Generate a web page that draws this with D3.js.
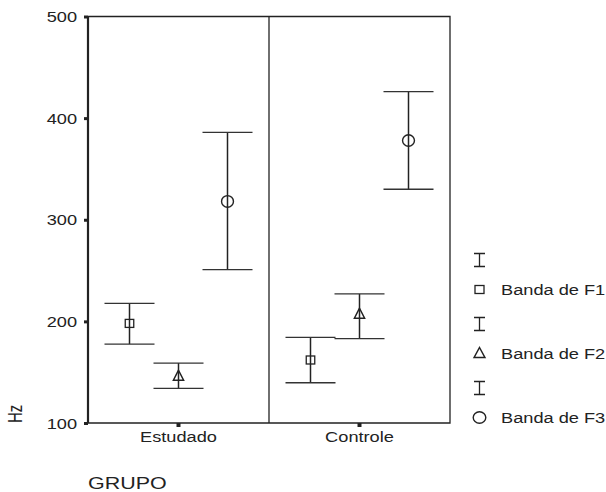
<!DOCTYPE html>
<html><head><meta charset="utf-8">
<script src="https://cdn.jsdelivr.net/npm/d3@7/dist/d3.min.js"></script>
<style>body{margin:0;background:#fff}svg{display:block;font-family:"Liberation Sans",Arial,sans-serif}</style>
</head><body>
<svg id="c" width="606" height="492"></svg>
<script>
const groups = ["Estudado", "Controle"];
const seriesNames = ["Banda de F1", "Banda de F2", "Banda de F3"];
const meanF1 = [198, 162], lowF1 = [177.7, 139.6], highF1 = [217.7, 184.3];
const meanF2 = [146, 207], lowF2 = [134, 183], highF2 = [159, 227];
const meanF3 = [318, 378], lowF3 = [251, 330], highF3 = [386, 426];
const yTicks = [100, 200, 300, 400, 500];
const yLabel = "Hz", xLabel = "GRUPO";

const means = [meanF1, meanF2, meanF3], lows = [lowF1, lowF2, lowF3], highs = [highF1, highF2, highF3];
const shapes = ["square", "triangle", "circle"];
const SX = 1.3; // horizontal stretch of the reference
const ink = "#222";

const svg = d3.select("#c");
const L = 88, R = 450, T = 16.5, B = 423;
const x = d3.scaleBand().domain(groups).range([L, R]);
const inner = d3.scalePoint().domain(seriesNames).range([-49, 49]);
const y = d3.scaleLinear().domain([100, 500]).range([B, T]);

function stretch(sel) {
  sel.each(function () {
    const w = this.getComputedTextLength();
    this.setAttribute("textLength", w * SX);
    this.setAttribute("lengthAdjust", "spacingAndGlyphs");
  });
}

// frame
svg.append("path").attr("d", `M${L},${T}H${R}V${B}H${L}`).attr("fill", "none").attr("stroke", ink).attr("stroke-width", 1.3);
svg.append("line").attr("x1", x.bandwidth() + L).attr("x2", x.bandwidth() + L).attr("y1", T).attr("y2", B).attr("stroke", ink).attr("stroke-width", 1.3);

// y axis
const yAxis = svg.append("g").attr("transform", `translate(${L},0)`)
  .call(d3.axisLeft(y).tickValues(yTicks).tickSize(4).tickPadding(7).tickFormat(d3.format("d")));
yAxis.select(".domain").attr("stroke", ink).attr("stroke-width", 2.2).attr("d", `M0,${T}V${B}`);
yAxis.selectAll(".tick line").attr("stroke", ink).attr("stroke-width", 3);
yAxis.selectAll(".tick text").attr("font-size", 14).attr("fill", ink).attr("font-family", "Liberation Sans, Arial").attr("dy", "0.36em").call(stretch);

// x axis
const xAxis = svg.append("g").attr("transform", `translate(0,${B})`)
  .call(d3.axisBottom(x).tickSize(4).tickPadding(5));
xAxis.select(".domain").remove();
xAxis.selectAll(".tick line").attr("stroke", ink).attr("stroke-width", 4);
xAxis.selectAll(".tick text").attr("font-size", 14).attr("fill", ink).attr("font-family", "Liberation Sans, Arial").call(stretch);

// axis titles
svg.append("text").attr("x", L).attr("y", 489).attr("font-size", 16.5).attr("fill", ink).text(xLabel).call(stretch);
svg.append("text").attr("transform", `translate(22,423) rotate(-90) scale(1,${SX})`).attr("font-size", 15).attr("fill", ink).text(yLabel);

function marker(g, shape, cx, cy, s) {
  if (shape === "square") {
    g.append("rect").attr("x", cx - 5 * s).attr("y", cy - 4).attr("width", 10 * s).attr("height", 8)
      .attr("fill", "#fff").attr("stroke", ink).attr("stroke-width", 1.3);
  } else if (shape === "triangle") {
    g.append("path").attr("d", `M${cx},${cy - 6}L${cx + 6 * s},${cy + 4}L${cx - 6 * s},${cy + 4}Z`)
      .attr("fill", "#fff").attr("stroke", ink).attr("stroke-width", 1.5);
  } else {
    g.append("ellipse").attr("cx", cx).attr("cy", cy).attr("rx", 7 * s).attr("ry", 5.8)
      .attr("fill", "#fff").attr("stroke", ink).attr("stroke-width", 1.4);
  }
}

// error bars
const plot = svg.append("g");
seriesNames.forEach((sn, si) => {
  groups.forEach((gname, gi) => {
    const cx = x(gname) + x.bandwidth() / 2 + inner(sn);
    const g = plot.append("g");
    marker(g, shapes[si], cx, y(means[si][gi]), 0.85);
    g.append("line").attr("x1", cx).attr("x2", cx).attr("y1", y(highs[si][gi])).attr("y2", y(lows[si][gi])).attr("stroke", ink).attr("stroke-width", 1.5);
    [highs[si][gi], lows[si][gi]].forEach(v => {
      g.append("line").attr("x1", cx - 25).attr("x2", cx + 25).attr("y1", y(v)).attr("y2", y(v)).attr("stroke", "#333").attr("stroke-width", 1.3);
    });
  });
});

// legend
const legY = [260, 324, 388];
const lg = svg.append("g");
seriesNames.forEach((sn, i) => {
  const cx = 479.5, yy = legY[i];
  lg.append("path").attr("d", `M${cx - 5.5},${yy - 6.5}H${cx + 5.5}M${cx},${yy - 6.5}V${yy + 6.5}M${cx - 5.5},${yy + 6.5}H${cx + 5.5}`)
    .attr("stroke", ink).attr("stroke-width", 1.3).attr("fill", "none");
  const my = yy + 29.5;
  marker(lg, shapes[i], cx, my, 0.9);
  lg.append("text").attr("x", 501).attr("y", my + 5).attr("font-size", 14).attr("fill", ink).text(sn).call(stretch);
});
</script>
</body></html>
